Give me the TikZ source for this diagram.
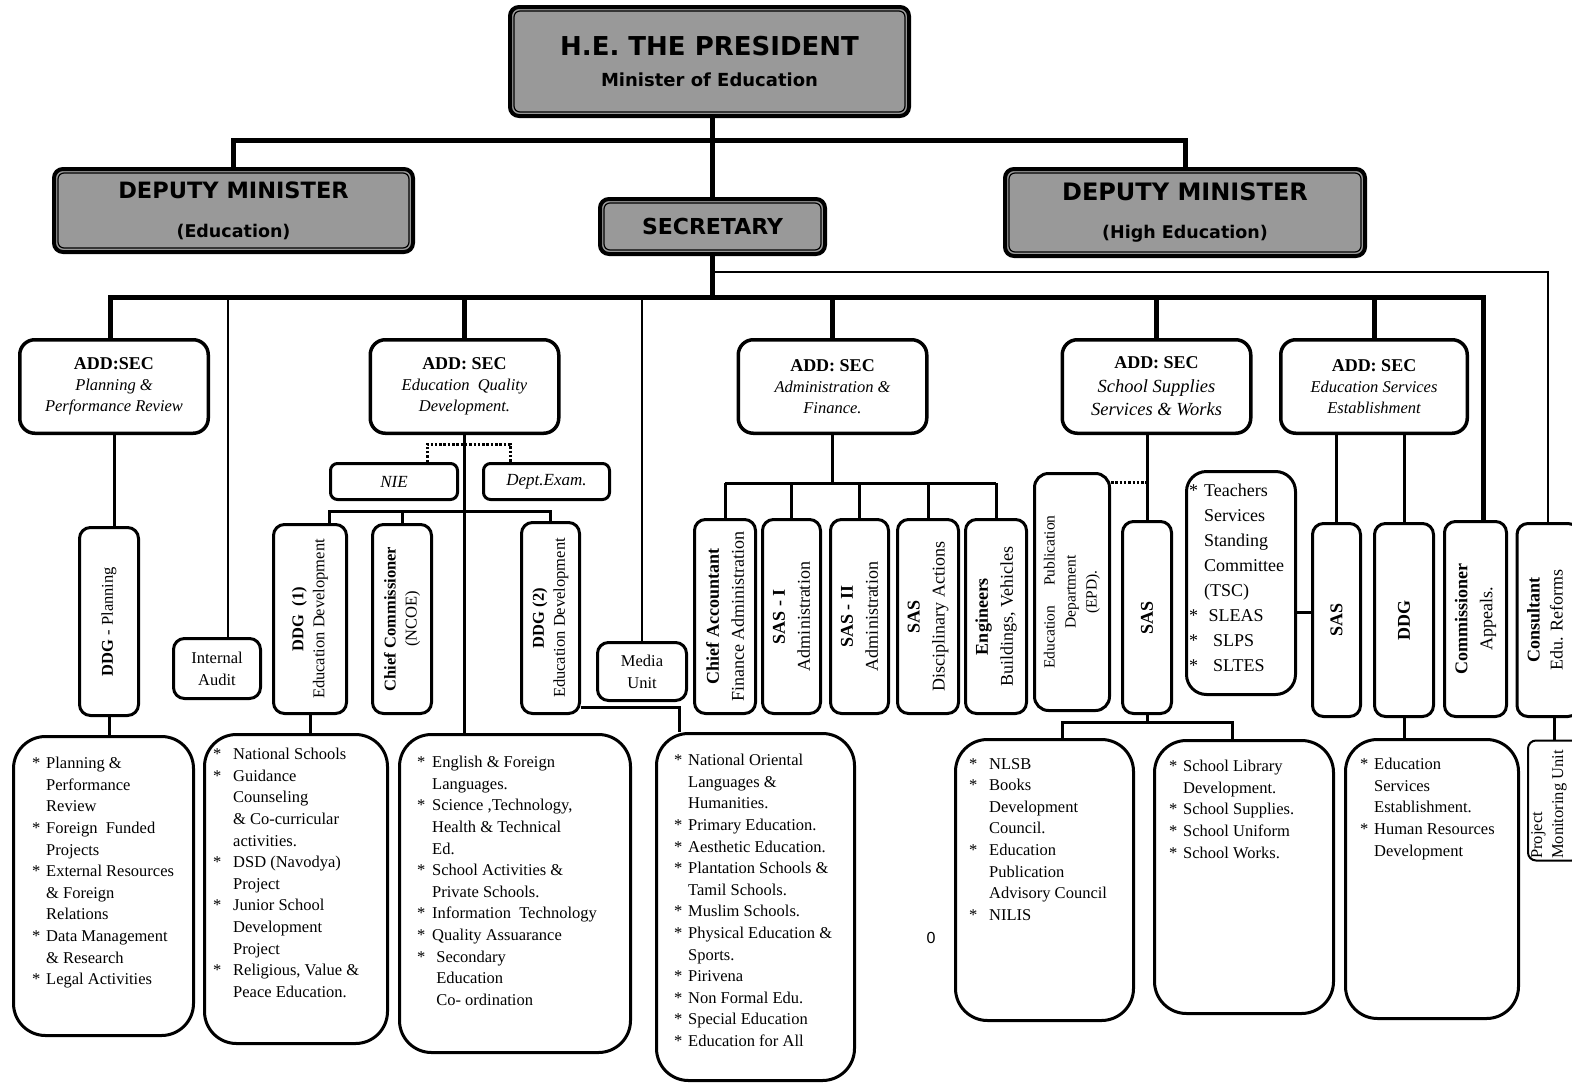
\documentclass[tikz,border=0pt]{standalone}
\usepackage{fontspec}
\setmainfont{Liberation Serif}
\newfontfamily\hdfont{DejaVu Sans}
\newfontfamily\numfont{Liberation Sans}
\usepackage{xcolor}
\usepackage{tikz}
\usetikzlibrary{calc}
\definecolor{boxgray}{RGB}{153,153,153}

\newlength{\bw}
\setlength{\bw}{14pt}
\newcommand{\bl}[1]{\makebox[\bw][l]{*}#1}
\newcommand{\bc}[1]{\hspace*{\bw}#1}
\newcommand{\addsec}[1]{{\upshape\bfseries\fontsize{18}{21}\selectfont #1}}

\tikzset{
  hdbox/.style={draw, line width=4pt, fill=boxgray, rounded corners=9pt, inner sep=0pt, align=center},
  addbox/.style={draw, line width=3.5pt, rounded corners=15pt, inner sep=0pt, align=center,
    font=\itshape\fontsize{16.5}{21}\selectfont},
  vbox/.style={draw, line width=3pt, rounded corners=11pt, inner sep=0pt, align=center},
  listbox/.style={draw, line width=3pt, rounded corners=32pt, inner sep=0pt},
  listtext/.style={anchor=north west, inner sep=0pt, align=left, font=\fontsize{16.5}{21.6}\selectfont},
  vtext/.style={rotate=90, inner sep=0pt, align=center, font=\fontsize{18}{25}\selectfont},
  bullet/.code={\setlength{\bw}{#1}},
  bus/.style={line width=5pt},
  link/.style={line width=3pt},
  feed/.style={line width=2.2pt},
  dotlink/.style={line width=3pt, dash pattern=on 2.5pt off 1.8pt},
}

\begin{document}
\begin{tikzpicture}[x=1pt,y=-1pt]
\useasboundingbox (0,0) rectangle (1572,1084);

% Top level
\node[hdbox, minimum width=399, minimum height=109, font=\hdfont\bfseries\fontsize{18}{31}\selectfont] (pres) at (709.5,61.5)
  {{\fontsize{26}{31}\selectfont H.E. THE PRESIDENT}\\Minister of Education};
\node[hdbox, minimum width=359, minimum height=83, font=\hdfont\bfseries\fontsize{17.5}{39}\selectfont] (dml) at (233.5,210.5)
  {{\fontsize{22.5}{27}\selectfont DEPUTY MINISTER}\\(Education)};
\node[hdbox, minimum width=225, minimum height=55, font=\hdfont\bfseries\fontsize{22}{26}\selectfont] (sec) at (712.5,226.5) {SECRETARY};
\node[hdbox, minimum width=360, minimum height=87, font=\hdfont\bfseries\fontsize{17.5}{38}\selectfont] (dmr) at (1185,212.5)
  {{\fontsize{24}{28}\selectfont DEPUTY MINISTER}\\(High Education)};
\foreach \n in {pres,dml,sec,dmr}
  \draw[line width=1.2pt, rounded corners=6pt] ([xshift=6pt,yshift=-6pt]\n.north west) rectangle ([xshift=-6pt,yshift=6pt]\n.south east);

% Additional secretaries
\node[addbox, minimum width=188.5, minimum height=93.5] (addplan) at (114,386.5) {\addsec{ADD:SEC}\\Planning \&\\Performance Review};
\node[addbox, minimum width=188.5, minimum height=93.5] (addeqd) at (464.5,386.5) {\addsec{ADD: SEC}\\Education\ \ Quality\\Development.};
\node[addbox, minimum width=188.5, minimum height=93.5] (addadm) at (832.5,386.5) {\addsec{ADD: SEC}\\Administration \&\\Finance.};
\node[addbox, minimum width=188.5, minimum height=93.5, font=\itshape\fontsize{18.5}{23.5}\selectfont] (addsss) at (1156.5,386.5) {\addsec{ADD: SEC}\\School Supplies\\Services \& Works};
\node[addbox, minimum width=186.5, minimum height=93.5] (addese) at (1374,386.5) {\addsec{ADD: SEC}\\Education Services\\Establishment};

% Planning column
\node[vbox, minimum width=59, minimum height=188] (ddgp) at (109,621.5) {};
\node[vtext, font=\fontsize{16.5}{21}\selectfont] (ddgp-t) at (ddgp) {\textbf{DDG} - Planning};
\node[vbox, minimum width=87, minimum height=60, font=\fontsize{16.5}{22}\selectfont] (audit) at (217,668.5) {Internal\\Audit};

% Education quality column
\node[vbox, minimum width=127, minimum height=36, rounded corners=7pt, font=\itshape\fontsize{17}{20}\selectfont] (nie) at (394,481.5) {NIE};
\node[vbox, minimum width=126, minimum height=36, rounded corners=7pt, font=\itshape\fontsize{17}{20}\selectfont] (dexam) at (546.5,481.5) {Dept.Exam.};
\node[vbox, minimum width=73, minimum height=189] (ddg1) at (310,619) {};
\node[vtext, font=\fontsize{16.5}{21}\selectfont] (ddg1-t) at (ddg1) {\textbf{DDG\ \ (1)}\\Education Development};
\node[vbox, minimum width=59, minimum height=189] (ccom) at (402,619) {};
\node[vtext, font=\fontsize{16.5}{21}\selectfont] (ccom-t) at (ccom) {\textbf{Chief Commissioner}\\(NCOE)};
\node[vbox, minimum width=58, minimum height=191] (ddg2) at (550.5,618) {};
\node[vtext, font=\fontsize{16.5}{21}\selectfont] (ddg2-t) at (ddg2) {\textbf{DDG (2)}\\Education Development};
\node[vbox, minimum width=89, minimum height=58, font=\fontsize{16.5}{22}\selectfont] (media) at (642,671.5) {Media\\Unit};

% Administration column
\node[vbox, minimum width=61, minimum height=194] (cacc) at (725,616.5) {};
\node[vtext] (cacc-t) at (cacc) {\textbf{Chief Accountant}\\Finance Administration};
\node[vbox, minimum width=58, minimum height=194] (sas1) at (791.5,616.5) {};
\node[vtext] (sas1-t) at (sas1) {\textbf{SAS - I}\\Administration};
\node[vbox, minimum width=58, minimum height=194] (sas2) at (859.5,616.5) {};
\node[vtext] (sas2-t) at (sas2) {\textbf{SAS - II}\\Administration};
\node[vbox, minimum width=61, minimum height=194] (sasd) at (928,616.5) {};
\node[vtext] (sasd-t) at (sasd) {\textbf{SAS}\\Disciplinary Actions};
\node[vbox, minimum width=61, minimum height=194] (eng) at (996,616.5) {};
\node[vtext] (eng-t) at (eng) {\textbf{Engineers}\\Buildings, Vehicles};

% School supplies column
\node[vbox, minimum width=75, minimum height=237, rounded corners=14pt] (epd) at (1072,592) {};
\node[vtext, font=\fontsize{15.5}{21}\selectfont] (epd-t) at (epd) {Education\hspace{20pt}Publication\\Department\\(EPD).};
\node[vbox, minimum width=49, minimum height=192] (sas3) at (1147,617.5) {};
\node[vtext] (sas3-t) at (sas3) {\textbf{SAS}};

% Education services column
\node[vbox, minimum width=109, minimum height=223, rounded corners=20pt] (tsc) at (1241,583) {};
\node[listtext, bullet=15pt, font=\fontsize{18}{25}\selectfont] (tsc-t) at (1189,484)
  {\bl{Teachers}\\ \bc{Services}\\ \bc{Standing}\\ \bc{Committee}\\ \bc{(TSC)}\\ \bl{\ SLEAS}\\ \bl{\ \ SLPS}\\ \bl{\ \ SLTES}};
\node[vbox, minimum width=48, minimum height=193] (sas4) at (1336.5,620) {};
\node[vtext] (sas4-t) at (sas4) {\textbf{SAS}};
\node[vbox, minimum width=59, minimum height=193] (ddg3) at (1404,620) {};
\node[vtext] (ddg3-t) at (ddg3) {\textbf{DDG}};
\node[vbox, minimum width=62, minimum height=195] (comm) at (1475.5,619) {};
\node[vtext] (comm-t) at (comm) {\textbf{Commissioner}\\Appeals.};
\node[vbox, minimum width=62, minimum height=193] (cons) at (1548,620) {};
\node[vtext, font=\fontsize{18}{23}\selectfont] (cons-t) at (1545,620) {\textbf{Consultant}\\Edu. Reforms};
\node[vbox, line width=2pt, minimum width=52, minimum height=120, rounded corners=8pt] (pmu) at (1554,800.5) {};
\node[vtext, align=left, anchor=north west, font=\fontsize{16.5}{21}\selectfont] (pmu-t) at (1531,859) {Project\\Monitoring Unit};

% Duty lists
\node[listbox, minimum width=180, minimum height=299] (lplan) at (103.5,886) {};
\node[listtext] (lplan-t) at (32,757)
  {\bl{Planning \&}\\ \bc{Performance}\\ \bc{Review}\\ \bl{Foreign\ \ Funded}\\ \bc{Projects}\\ \bl{External Resources}\\
   \bc{\& Foreign}\\ \bc{Relations}\\ \bl{Data Management}\\ \bc{\& Research}\\ \bl{Legal Activities}};
\node[listbox, minimum width=183, minimum height=309] (lddg1) at (296,889) {};
\node[listtext, bullet=20pt] (lddg1-t) at (213,748)
  {\bl{National Schools}\\ \bl{Guidance}\\ \bc{Counseling}\\ \bc{\& Co-curricular}\\ \bc{activities.}\\ \bl{DSD (Navodya)}\\
   \bc{Project}\\ \bl{Junior School}\\ \bc{Development}\\ \bc{Project}\\ \bl{Religious, Value \&}\\ \bc{Peace Education.}};
\node[listbox, minimum width=231, minimum height=318] (leqd) at (515,893.5) {};
\node[listtext, bullet=15pt] (leqd-t) at (417,756)
  {\bl{English \& Foreign}\\ \bc{Languages.}\\ \bl{Science ,Technology,}\\ \bc{Health \& Technical}\\ \bc{Ed.}\\
   \bl{School Activities \&}\\ \bc{Private Schools.}\\ \bl{Information\ \ Technology}\\ \bl{Quality Assuarance}\\
   \bl{\ Secondary}\\ \bc{\ Education}\\ \bc{\ Co- ordination}};
\node[listbox, minimum width=198, minimum height=347] (lddg2) at (755.5,907) {};
\node[listtext] (lddg2-t) at (674,754)
  {\bl{National Oriental}\\ \bc{Languages \&}\\ \bc{Humanities.}\\ \bl{Primary Education.}\\ \bl{Aesthetic Education.}\\
   \bl{Plantation Schools \&}\\ \bc{Tamil Schools.}\\ \bl{Muslim Schools.}\\ \bl{Physical Education \&}\\ \bc{Sports.}\\
   \bl{Pirivena}\\ \bl{Non Formal Edu.}\\ \bl{Special Education}\\ \bl{Education for All}};
\node[listbox, minimum width=178, minimum height=281] (lnlsb) at (1044.5,880) {};
\node[listtext, bullet=20pt] (lnlsb-t) at (969,758)
  {\bl{NLSB}\\ \bl{Books}\\ \bc{Development}\\ \bc{Council.}\\ \bl{Education}\\ \bc{Publication}\\ \bc{Advisory Council}\\ \bl{NILIS}};
\node[listbox, minimum width=179, minimum height=273] (lsld) at (1244,877) {};
\node[listtext] (lsld-t) at (1169,760)
  {\bl{School Library}\\ \bc{Development.}\\ \bl{School Supplies.}\\ \bl{School Uniform}\\ \bl{School Works.}};
\node[listbox, minimum width=173, minimum height=279] (lese) at (1432,879) {};
\node[listtext] (lese-t) at (1360,758)
  {\bl{Education}\\ \bc{Services}\\ \bc{Establishment.}\\ \bl{Human Resources}\\ \bc{Development}};

\node[inner sep=0pt, font=\numfont\fontsize{16}{18}\selectfont] (zero) at (931,938) {0};

% Top connectors
\coordinate (tbus) at (0,140);
\coordinate (mbus) at (0,297);
\coordinate (cbus) at (0,272);
\coordinate (mbusL) at (110,297);
\coordinate (mbusR) at (1483,297);
\draw[bus] (sec.north |- pres.south) -- (sec.north);
\draw[bus] (dml.north) |- (sec.north |- tbus) -| (dmr.north);
\draw[bus] (sec.south) -- (sec.south |- mbus);
\draw[bus] (mbusL |- addplan.north) -- (mbusL) -- (mbusR) -- (mbusR |- comm.north);
\foreach \n in {addeqd,addadm,addsss,addese}
  \draw[bus] (\n.north |- mbus) -- (\n.north);
\draw[feed] (sec.south |- cbus) -| (cons.north);
\coordinate (auditf) at (228,297);
\draw[feed] (auditf) -- (auditf |- audit.north);
\draw[feed] (media.north |- mbus) -- (media.north);

% Planning links
\draw[link] (addplan.south) -- (addplan.south |- ddgp.north);
\draw[link] (ddgp.south) -- (ddgp.south |- lplan.north);

% Education quality links
\coordinate (dotL) at (427,444);
\coordinate (dotR) at (510,444);
\coordinate (b1) at (329,511);
\coordinate (d2c) at (679,707);
\draw[link] (addeqd.south) -- (addeqd.south |- leqd.north);
\draw[dotlink] (dotL |- nie.north) -- (dotL) -- (dotR) -- (dotR |- dexam.north);
\draw[link] (b1 |- ddg1.north) -- (b1) -- (ddg2.north |- b1) -- (ddg2.north);
\draw[link] (ccom.north |- b1) -- (ccom.north);
\draw[link] (ddg1.south) -- (ddg1.south |- lddg1.north);
\draw[link] (ddg2.east |- d2c) -- (d2c) -- (d2c |- lddg2.north);

% Administration links
\coordinate (adb) at (0,483);
\draw[link] (addadm.south) -- (addadm.south |- adb);
\draw[link] (cacc.north |- adb) -- (eng.north |- adb);
\foreach \n in {cacc,sas1,sas2,sasd,eng}
  \draw[link] (\n.north |- adb) -- (\n.north);

% School supplies links
\coordinate (ed) at (0,482);
\coordinate (s5) at (1062,722);
\coordinate (s6) at (1232,722);
\draw[link] (sas3.north |- addsss.south) -- (sas3.north);
\draw[dotlink] (epd.east |- ed) -- (sas3.north |- ed);
\draw[link] (sas3.south) -- (sas3.south |- s5);
\draw[link] (s5 |- lnlsb.north) -- (s5) -- (s6) -- (s6 |- lsld.north);

% Education services links
\coordinate (ty) at (0,612);
\draw[link] (sas4.north |- addese.south) -- (sas4.north);
\draw[link] (ddg3.north |- addese.south) -- (ddg3.north);
\draw[link] (tsc.east |- ty) -- (sas4.west |- ty);
\draw[link] (ddg3.south) -- (ddg3.south |- lese.north);
\draw[link] (pmu.north |- cons.south) -- (pmu.north);
\end{tikzpicture}
\end{document}
